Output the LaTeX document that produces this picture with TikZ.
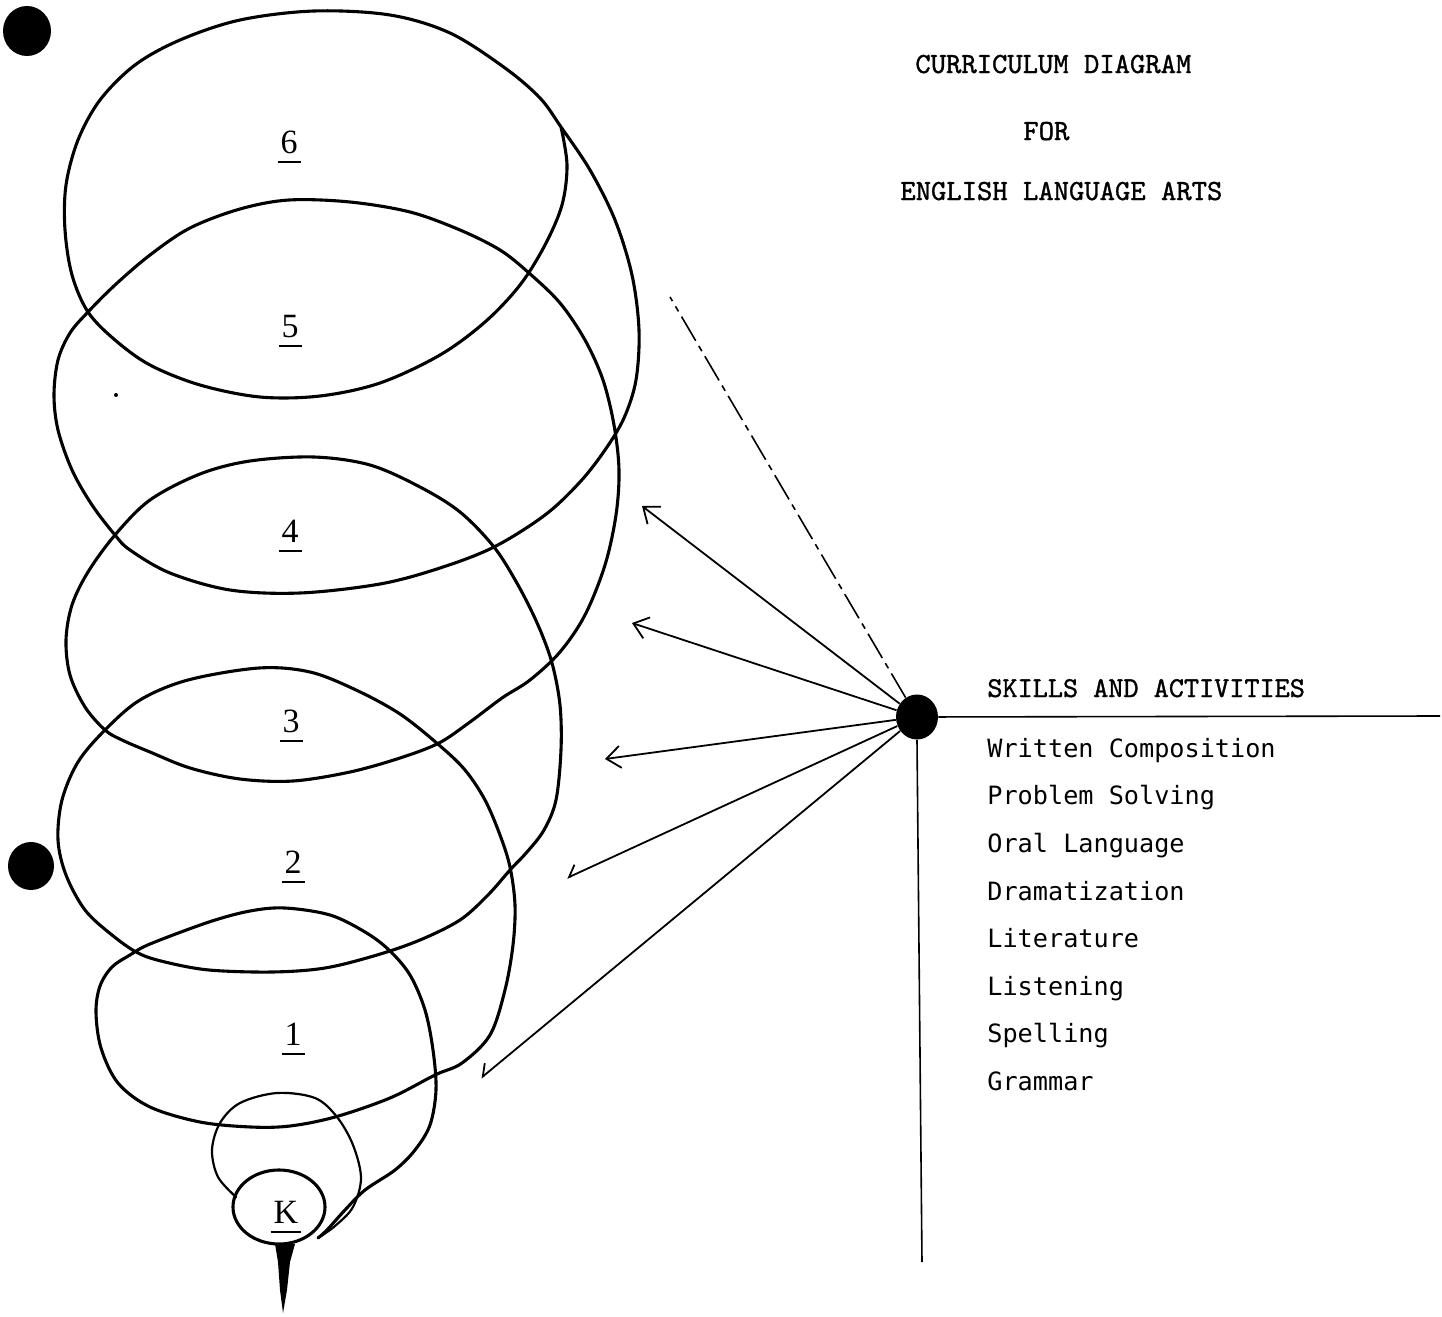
\documentclass[tikz,border=0pt]{standalone}
\usepackage{fontspec}
\newfontfamily\listfont{DejaVu Sans Mono}
\newfontfamily\typefont{lmmono10-regular.otf}[FakeBold=1.2]
\newfontfamily\gradefont{Liberation Serif}
\usetikzlibrary{arrows.meta,shapes.geometric}
\newcommand\gradelabel[1]{\vtop{\hbox{\kern1.5pt#1\kern1.5pt}\kern4pt\hrule height 0.9pt}}
\begin{document}
\begin{tikzpicture}[x=0.5pt,y=-0.5pt,
  spiral/.style={line width=1.55pt, line cap=round, line join=round},
  thinspiral/.style={line width=1.1pt, line cap=round, line join=round},
  blackdot/.style={ellipse, fill=black, inner sep=0pt},
  grade/.style={anchor=base, inner sep=0pt, font=\gradefont\fontsize{17}{20}\selectfont},
  titletext/.style={anchor=base west, inner sep=0pt, font=\typefont\fontsize{14.6}{17}\selectfont},
  skill/.style={anchor=base west, inner sep=0pt, font=\listfont\fontsize{12.6}{15}\selectfont},
  link/.style={line width=0.9pt},
  barb/.style={-{Straight Barb[length=7pt,width=11pt]}},
  halfbarb/.style={-{Straight Barb[harpoon,swap,length=5pt,width=9pt]}},
]
\useasboundingbox (0,0) rectangle (1442,1317);

% --- the spiral ---
\draw[spiral] plot[smooth, tension=0.55] coordinates {
 (561,127) (567,165) (562,205) (545,245) (520,285) (485,322) (440,355)
 (380,383) (320,396) (260,397) (200,385) (150,365) (115,340) (88,312)
 (72,275) (65,230) (66,185) (78,140) (100,100) (135,65) (180,40) (240,20)
 (314,11) (390,15) (450,33) (505,68) (540,98) (561,127)
 (590,170) (615,220) (632,275) (639,330) (636,380) (624,418) (605,450)
 (580,482) (545,515) (494,547) (440,568) (380,584) (300,593) (230,590)
 (170,573) (130,550) (115,535) (92,505) (72,470) (58,430) (54,395)
 (58,360) (70,333) (88,312) (115,285) (150,255) (190,228) (240,209)
 (289,200) (350,202) (410,212) (460,230) (500,250) (529,273) (560,303)
 (585,340) (603,380) (614,425) (619,470) (616,515) (605,565) (585,615)
 (560,652) (530,680) (502,698) (470,722) (439,743) (400,758) (350,772)
 (293,781) (240,779) (190,768) (150,752) (122,740) (105,730) (85,707)
 (70,675) (66,640) (72,605) (88,572) (115,535) (150,500) (200,474)
 (250,461) (314,457) (370,465) (420,487) (460,512) (494,547) (518,585)
 (538,625) (552,663) (560,705) (561,750) (556,800) (544,830) (527,852)
 (510,870) (488,895) (460,920) (420,940) (377,955) (325,968) (272,972)
 (209,970) (165,962) (138,953) (112,935) (85,910) (66,875) (58,840)
 (62,800) (78,762) (105,730) (140,700) (188,680) (259,668) (310,672)
 (356,690) (400,714) (439,745) (465,770) (485,800) (500,835) (510,867)
 (515,905) (513,945) (505,990) (490,1035) (462,1063) (435,1075)
 (390,1098) (335,1117) (290,1126) (251,1127) (200,1122) (150,1107)
 (118,1083) (101,1048) (96,1012) (100,986) (112,967) (130,955) (150,944)
 (209,922) (250,911) (285,908) (330,915) (365,932) (389,950) (410,975)
 (425,1010) (433,1050) (436,1090) (430,1125) (415,1150) (395,1170)
 (365,1190) (345,1210) (327,1230) (318,1238)
};
% inner loop round K
\draw[thinspiral] plot[smooth, tension=0.55] coordinates {
 (236,1197) (218,1177) (212,1150) (220,1123) (240,1103) (277,1093)
 (315,1098) (337,1117) (353,1145) (361,1178) (353,1207) (335,1226) (318,1238)
};
\draw[spiral] (279,1207) ellipse[x radius=46, y radius=37];
% tail
\fill (275,1244) -- (295,1244) -- (290,1262) -- (287,1290) -- (283,1313)
  -- (280,1290) -- (278,1262) -- cycle;
% speck
\fill (116,395) circle[radius=2];

% --- grade labels ---
\node[grade] (g6) at (289,153) {\gradelabel{6}};
\node[grade] (g5) at (290,337) {\gradelabel{5}};
\node[grade] (g4) at (290,542) {\gradelabel{4}};
\node[grade] (g3) at (291,732) {\gradelabel{3}};
\node[grade] (g2) at (293,873) {\gradelabel{2}};
\node[grade] (g1) at (293,1045) {\gradelabel{1}};
\node[grade] (gK) at (286,1223) {\gradelabel{K}};

% --- dots ---
\node[blackdot, minimum width=24pt, minimum height=25pt] (dotTL) at (27,31) {};
\node[blackdot, minimum width=23pt, minimum height=24pt] (dotL) at (31,866) {};
\node[blackdot, minimum width=21pt, minimum height=22.5pt] (hub) at (917,717) {};

% --- title ---
\node[titletext] (t1) at (915,73) {CURRICULUM DIAGRAM};
\node[titletext] (t2) at (1023,140) {FOR};
\node[titletext] (t3) at (900,200) {ENGLISH LANGUAGE ARTS};

% --- skills ---
\node[titletext, font=\typefont\fontsize{14.4}{17}\selectfont] (sk) at (987,697) {SKILLS AND ACTIVITIES};
\node[skill] (s1) at (987,757) {Written Composition};
\node[skill] (s2) at (987,804) {Problem Solving};
\node[skill] (s3) at (987,852) {Oral Language};
\node[skill] (s4) at (987,900) {Dramatization};
\node[skill] (s5) at (987,947) {Literature};
\node[skill] (s6) at (987,995) {Listening};
\node[skill] (s7) at (987,1042) {Spelling};
\node[skill] (s8) at (987,1090) {Grammar};

% --- connectors ---
\coordinate (e0) at (670,297);
\coordinate (e1) at (642,506);
\coordinate (e2) at (632,623);
\coordinate (e3) at (605,759);
\coordinate (e4) at (567,878);
\coordinate (e5) at (481,1078);
\coordinate (eh) at (1440,716);
\coordinate (ev) at (922,1262);

\draw[link, line width=0.8pt, dash pattern=on 14pt off 3pt on 3pt off 3pt] (hub) -- (e0);
\draw[link, barb] (hub) -- (e1);
\draw[link, barb] (hub) -- (e2);
\draw[link, barb] (hub) -- (e3);
\draw[link, halfbarb] (hub) -- (e4);
\draw[link, halfbarb] (hub) -- (e5);
\draw[link, line width=0.8pt] (hub) -- (eh);
\draw[link, line width=0.8pt] (hub.south) -- (ev);
\end{tikzpicture}
\end{document}
